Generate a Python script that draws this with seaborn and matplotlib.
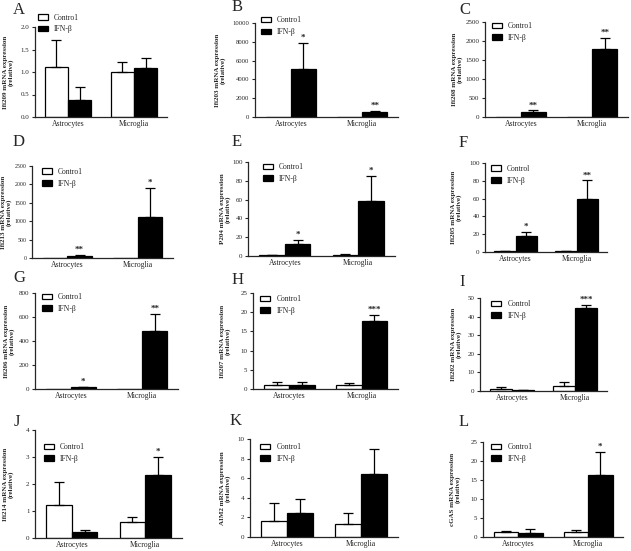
import pandas as pd
import seaborn as sns
import matplotlib.pyplot as plt

cells = ["Astrocytes", "Microglia"]
groups = ["Control", "IFN-β"]

# panel A - Ifi209
a_ctrl, a_ctrl_err = [1.12, 1.0], [0.58, 0.23]
a_ifn, a_ifn_err = [0.38, 1.08], [0.28, 0.23]
a_stars = ["", "", "", ""]
# panel B - Ifi203
b_ctrl, b_ctrl_err = [1, 1], [0, 0]
b_ifn, b_ifn_err = [5100, 550], [2800, 80]
b_stars = ["", "", "*", "**"]
# panel C - Ifi208
c_ctrl, c_ctrl_err = [1, 1], [0, 0]
c_ifn, c_ifn_err = [130, 1780], [45, 300]
c_stars = ["", "", "**", "**"]
# panel D - Ifi213
d_ctrl, d_ctrl_err = [1, 1], [0, 0]
d_ifn, d_ifn_err = [55, 1120], [30, 780]
d_stars = ["", "", "**", "*"]
# panel E - P204
e_ctrl, e_ctrl_err = [1, 1.5], [0.3, 0.5]
e_ifn, e_ifn_err = [12.5, 59], [5, 26]
e_stars = ["", "", "*", "*"]
# panel F - Ifi205
f_ctrl, f_ctrl_err = [0.8, 0.8], [0.2, 0.2]
f_ifn, f_ifn_err = [18.5, 59.5], [4, 21]
f_stars = ["", "", "*", "**"]
# panel G - Ifi206
g_ctrl, g_ctrl_err = [1, 1], [0, 0]
g_ifn, g_ifn_err = [15, 480], [3, 145]
g_stars = ["", "", "*", "**"]
# panel H - Ifi207
h_ctrl, h_ctrl_err = [1.0, 1.0], [0.8, 0.5]
h_ifn, h_ifn_err = [1.0, 17.8], [0.8, 1.5]
h_stars = ["", "", "", "***"]
# panel I - Ifi202
i_ctrl, i_ctrl_err = [1.0, 2.6], [1.0, 2.4]
i_ifn, i_ifn_err = [0.3, 44.5], [0.1, 2.0]
i_stars = ["", "", "", "***"]
# panel J - Ifi214
j_ctrl, j_ctrl_err = [1.22, 0.58], [0.86, 0.2]
j_ifn, j_ifn_err = [0.21, 2.33], [0.08, 0.68]
j_stars = ["", "", "", "*"]
# panel K - AIM2
k_ctrl, k_ctrl_err = [1.6, 1.3], [1.9, 1.2]
k_ifn, k_ifn_err = [2.5, 6.4], [1.4, 2.6]
k_stars = ["", "", "", ""]
# panel L - cGAS
l_ctrl, l_ctrl_err = [1.2, 1.2], [0.5, 0.6]
l_ifn, l_ifn_err = [1.1, 16.2], [1.1, 6.3]
l_stars = ["", "", "", "*"]

panels = [
    ("A", "Ifi209 mRNA expression", a_ctrl, a_ctrl_err, a_ifn, a_ifn_err, a_stars, 2.0, 0.5, "%.1f"),
    ("B", "Ifi203 mRNA expression", b_ctrl, b_ctrl_err, b_ifn, b_ifn_err, b_stars, 10000, 2000, "%d"),
    ("C", "Ifi208 mRNA expression", c_ctrl, c_ctrl_err, c_ifn, c_ifn_err, c_stars, 2500, 500, "%d"),
    ("D", "Ifi213 mRNA expression", d_ctrl, d_ctrl_err, d_ifn, d_ifn_err, d_stars, 2500, 500, "%d"),
    ("E", "P204 mRNA expression", e_ctrl, e_ctrl_err, e_ifn, e_ifn_err, e_stars, 100, 20, "%d"),
    ("F", "Ifi205 mRNA expression", f_ctrl, f_ctrl_err, f_ifn, f_ifn_err, f_stars, 100, 20, "%d"),
    ("G", "Ifi206 mRNA expression", g_ctrl, g_ctrl_err, g_ifn, g_ifn_err, g_stars, 800, 200, "%d"),
    ("H", "Ifi207 mRNA expression", h_ctrl, h_ctrl_err, h_ifn, h_ifn_err, h_stars, 25, 5, "%d"),
    ("I", "Ifi202 mRNA expression", i_ctrl, i_ctrl_err, i_ifn, i_ifn_err, i_stars, 50, 10, "%d"),
    ("J", "Ifi214 mRNA expression", j_ctrl, j_ctrl_err, j_ifn, j_ifn_err, j_stars, 4, 1, "%d"),
    ("K", "AIM2 mRNA expression", k_ctrl, k_ctrl_err, k_ifn, k_ifn_err, k_stars, 10, 2, "%d"),
    ("L", "cGAS mRNA expression", l_ctrl, l_ctrl_err, l_ifn, l_ifn_err, l_stars, 25, 5, "%d"),
]

# axes boxes in pixels: left, right, top, bottom ; legend anchor in axes fraction
boxes = [
    (35, 167, 27, 117, 0.02, 1.15), (255, 398, 23, 117, 0.04, 1.07), (485, 628, 22, 117, 0.05, 1.0),
    (32, 173, 166, 258, 0.07, 0.98), (248, 395, 162, 256, 0.1, 0.99), (485, 607, 163, 252, 0.05, 0.98),
    (35, 178, 293, 389, 0.05, 1.0), (253, 398, 293, 389, 0.05, 0.98), (480, 607, 298, 391, 0.09, 0.98),
    (35, 182, 430, 538, 0.06, 0.88), (250, 398, 439, 537, 0.07, 0.96), (483, 623, 442, 537, 0.06, 0.99),
]
# right edge (px) of each rotated y label, and y tick label size
label_right = [14, 226, 463, 12, 231, 462, 15, 231, 462, 14, 231, 461]
tick_size = [5, 4.8, 5, 4.2, 5, 5, 5, 5, 5, 5, 5, 5]
letter_pos = [(13, 10), (232, 7), (459, 10), (13, 142), (232, 142), (459, 143),
              (13, 278), (232, 280), (459, 282), (14, 422), (230, 421), (459, 422)]

sns.set_style("ticks")
plt.rcParams["font.family"] = ["Liberation Serif", "DejaVu Serif"]

W, H = 631, 551
fig = plt.figure(figsize=(W / 100, H / 100), dpi=100)

for (letter, ylab, ctrl, ctrl_err, ifn, ifn_err, stars, ymax, ystep, fmt), box, lr, ts, lp in zip(
        panels, boxes, label_right, tick_size, letter_pos):
    x0, x1, y0, y1, lx, ly = box
    ax = fig.add_axes([x0 / W, 1 - y1 / H, (x1 - x0) / W, (y1 - y0) / H])
    df = pd.DataFrame({
        "cell": cells * 2,
        "group": [groups[0]] * 2 + [groups[1]] * 2,
        "value": ctrl + ifn,
    })
    sns.barplot(data=df, x="cell", y="value", hue="group", hue_order=groups,
                palette={"Control": "white", "IFN-β": "black"}, edgecolor="black",
                linewidth=0.9, width=0.7, errorbar=None, legend=False, ax=ax)
    errs = ctrl_err + ifn_err
    bars = [p for cont in list(ax.containers) for p in cont.patches]
    for k, p in enumerate(bars):
        xc = p.get_x() + p.get_width() / 2
        top = p.get_height()
        e = errs[k]
        if e > 0:
            ax.errorbar(xc, top, yerr=[[0], [e]], color="black", lw=0.9,
                        capsize=3.5, capthick=0.9)
        if stars[k]:
            ax.text(xc, top + e + ymax * 0.01, stars[k], ha="center", va="bottom",
                    fontsize=6.5, fontweight="bold")
    ax.set_ylim(0, ymax)
    ax.set_xlim(-0.5, 1.5)
    ticks = [ystep * t for t in range(int(round(ymax / ystep)) + 1)]
    ax.set_yticks(ticks)
    ax.set_yticklabels([fmt % t for t in ticks])
    ax.tick_params(axis="y", labelsize=ts, length=2.5, width=0.8, pad=1.5)
    ax.tick_params(axis="x", length=0, pad=2, labelsize=5.5)
    ax.set_xlabel("")
    ax.set_ylabel(ylab + "\n(relative)", fontsize=5, fontweight="bold", linespacing=1.1)
    ax.yaxis.set_label_coords((lr - x0) / (x1 - x0), 0.5)
    for s in ["left", "bottom"]:
        ax.spines[s].set_linewidth(0.9)
    sns.despine(ax=ax)
    handles = [plt.Rectangle((0, 0), 1, 1, facecolor="white", edgecolor="black", lw=0.9),
               plt.Rectangle((0, 0), 1, 1, facecolor="black", edgecolor="black", lw=0.9)]
    labels = ["Contro1", "IFN-β"] if letter not in ("F", "I") else ["Control", "IFN-β"]
    ax.legend(handles, labels, loc="upper left", bbox_to_anchor=(lx, ly), frameon=False,
              fontsize=5.5, handlelength=1.3, handleheight=0.7, handletextpad=0.8,
              labelspacing=0.5, borderpad=0, borderaxespad=0)
    fig.text(lp[0] / W, 1 - lp[1] / H, letter, fontsize=12, ha="left", va="center")

fig.savefig("out.png", dpi=100)
